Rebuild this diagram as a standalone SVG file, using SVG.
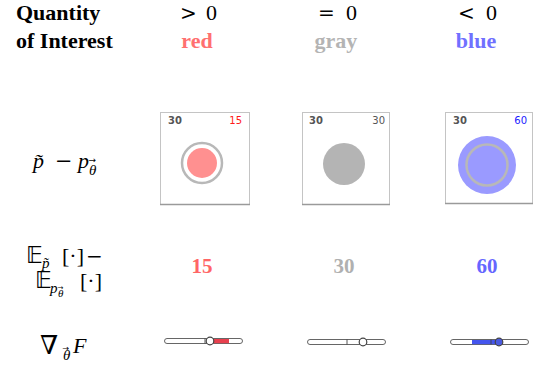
<svg xmlns="http://www.w3.org/2000/svg" width="534" height="367" viewBox="0 0 534 367">
<style>
.hdr{font-family:"Liberation Serif","Times New Roman",serif;font-weight:bold;font-size:22px;fill:#000}
.math{font-family:"Liberation Serif","DejaVu Serif",serif;font-size:22px;fill:#000}
.rel{font-family:"DejaVu Serif","Liberation Serif",serif;font-size:20px}
.bb{font-family:"DejaVu Sans","Noto Sans",sans-serif;font-size:23px}
.it{font-style:italic}
.sub{font-size:15px}
.ssub{font-size:11px}
.vec{font-family:"DejaVu Sans",sans-serif;fill:#000}
.col{font-family:"Liberation Serif","Times New Roman",serif;font-weight:bold;font-size:22px;text-anchor:middle}
.val{font-family:"Liberation Serif","Times New Roman",serif;font-weight:bold;font-size:21px;text-anchor:middle}
.lbl{font-family:"DejaVu Sans",Verdana,sans-serif;font-size:10px}
.box{fill:#fff;stroke:#c4c4c4;stroke-width:1}
.shadow{stroke:#9a9a9a;stroke-width:1.5}
.track{fill:#fff;stroke:#555;stroke-width:0.9}
.tick{stroke:#444;stroke-width:0.9}
.knob{stroke:#444;stroke-width:1.2}
</style>

<g id="header">
  <text class="hdr" x="16" y="20">Quantity</text>
  <text class="hdr" x="16" y="48">of Interest</text>
  <text class="math" y="20"><tspan class="rel" x="180">&gt;</tspan><tspan x="206">0</tspan></text>
  <text class="math" y="20"><tspan class="rel" x="318">=</tspan><tspan x="346">0</tspan></text>
  <text class="math" y="20"><tspan class="rel" x="458">&lt;</tspan><tspan x="486">0</tspan></text>
  <text class="col" x="197" y="48" fill="#ff7070">red</text>
  <text class="col" x="336" y="48" fill="#b4b4b4">gray</text>
  <text class="col" x="476" y="48" fill="#7070ff">blue</text>
</g>

<g id="row-labels">
  <text class="math" y="168"><tspan class="it" x="33">p&#x303;</tspan><tspan x="55" style="font-family:'DejaVu Serif';font-size:21px">−</tspan><tspan class="it" x="78">p</tspan><tspan class="it sub" x="89" y="175">θ</tspan></text>
  <text class="vec" x="88.5" y="163" font-size="9">→</text>

  <text class="math bb" x="26" y="263">𝔼</text>
  <text class="math it sub" x="42" y="268">p&#x303;</text>
  <text class="math" y="263"><tspan x="62">[·]</tspan><tspan x="86" style="font-family:'DejaVu Serif';font-size:20px">−</tspan></text>

  <text class="math bb" x="35" y="288">𝔼</text>
  <text class="math it sub" x="50" y="293">p</text>
  <text class="math it ssub" x="58" y="297">θ</text>
  <text class="vec" x="57.5" y="290" font-size="7">→</text>
  <text class="math" x="80" y="288">[·]</text>

  <text class="math" x="40" y="354" style="font-family:'DejaVu Serif';font-size:26px">∇</text>
  <text class="math it" x="63" y="360" style="font-size:15px">θ</text>
  <text class="vec" x="62.5" y="351" font-size="8">→</text>
  <text class="math it" x="73" y="353">F</text>
</g>

<g id="box-red">
  <rect class="box" x="160.5" y="112.5" width="89" height="92"/>
  <line class="shadow" x1="160" y1="204.5" x2="250" y2="204.5"/>
  <text class="lbl" x="168" y="124" font-weight="bold" fill="#555">30</text>
  <text class="lbl" x="242" y="124" text-anchor="end" fill="#ff1a1a">15</text>
  <circle cx="202" cy="163" r="20" fill="none" stroke="#b8b8b8" stroke-width="2.5"/>
  <circle cx="202" cy="163" r="15" fill="#ff9090"/>
</g>

<g id="box-gray">
  <rect class="box" x="302.5" y="112.5" width="87" height="92"/>
  <line class="shadow" x1="302" y1="204.5" x2="390" y2="204.5"/>
  <text class="lbl" x="309" y="124" font-weight="bold" fill="#555">30</text>
  <text class="lbl" x="385" y="124" text-anchor="end" fill="#555">30</text>
  <circle cx="344" cy="164" r="21" fill="#b4b4b4"/>
</g>

<g id="box-blue">
  <rect class="box" x="445.5" y="112.5" width="87" height="91"/>
  <line class="shadow" x1="445" y1="203.5" x2="533" y2="203.5"/>
  <text class="lbl" x="453" y="124" font-weight="bold" fill="#555">30</text>
  <text class="lbl" x="527" y="124" text-anchor="end" fill="#1a1aff">60</text>
  <circle cx="487" cy="165" r="29" fill="#9a9aff"/>
  <circle cx="487" cy="165" r="20.5" fill="none" stroke="#b8b8b8" stroke-width="2.5"/>
</g>

<g id="values">
  <text class="val" x="202" y="273" fill="#ff6666">15</text>
  <text class="val" x="344" y="273" fill="#b0b0b0">30</text>
  <text class="val" x="487" y="273" fill="#6666ff">60</text>
</g>

<g id="slider-red">
  <rect class="track" x="164.5" y="338.5" width="78" height="5" rx="2.5"/>
  <rect x="210" y="339" width="19" height="4.2" fill="#e8404e"/>
  <line class="tick" x1="205" y1="338.5" x2="205" y2="343.5"/>
  <circle class="knob" cx="210" cy="341" r="3.8" fill="#fff"/>
</g>

<g id="slider-gray">
  <rect class="track" x="307.5" y="339.5" width="78" height="5" rx="2.5"/>
  <line class="tick" x1="347" y1="339.5" x2="347" y2="344.5"/>
  <circle class="knob" cx="363" cy="342" r="3.8" fill="#fff"/>
</g>

<g id="slider-blue">
  <rect class="track" x="450.5" y="339.5" width="78" height="5" rx="2.5"/>
  <rect x="472" y="340" width="27" height="4.2" fill="#4455ee"/>
  <line class="tick" x1="491" y1="339.5" x2="491" y2="344.5"/>
  <circle class="knob" cx="499" cy="342" r="3.8" fill="#4a5ae0"/>
</g>
</svg>
